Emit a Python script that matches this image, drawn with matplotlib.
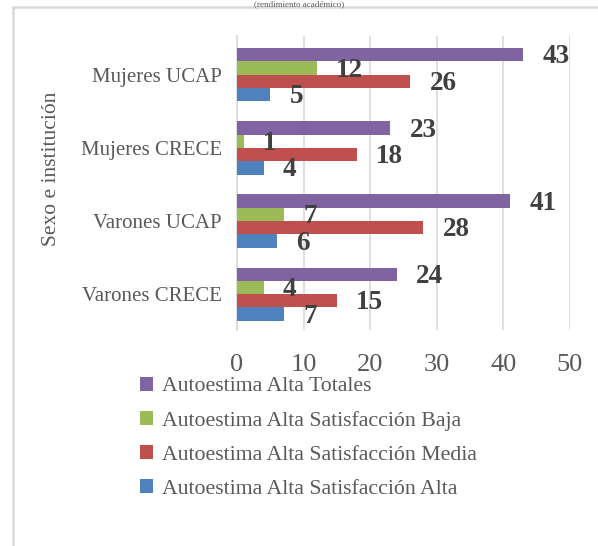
import matplotlib
matplotlib.use("Agg")
import matplotlib.pyplot as plt
import matplotlib.patches as mpatches
import numpy as np

plt.rcParams["font.family"] = ["Liberation Serif", "DejaVu Serif"]

categories = ["Varones CRECE", "Varones UCAP", "Mujeres CRECE", "Mujeres UCAP"]
series_names = [
    "Autoestima Alta Totales",
    "Autoestima Alta Satisfacción Baja",
    "Autoestima Alta Satisfacción Media",
    "Autoestima Alta Satisfacción Alta",
]
totales = [24, 41, 23, 43]
sat_baja = [4, 7, 1, 12]
sat_media = [15, 28, 18, 26]
sat_alta = [7, 6, 4, 5]
colors = ["#8064A2", "#9BBB59", "#C0504D", "#4F81BD"]

fig = plt.figure(figsize=(5.98, 5.46), dpi=100)
ax = fig.add_axes([237 / 598, 1 - 330 / 546, (570 - 237) / 598, (330 - 36) / 546])

y = np.arange(len(categories))
h = 0.182
offsets = [1.5 * h, 0.5 * h, -0.5 * h, -1.5 * h]
data = [totales, sat_baja, sat_media, sat_alta]

for vals, name, col, off in zip(data, series_names, colors, offsets):
    bars = ax.barh(y + off, vals, height=h, color=col, label=name, zorder=3)
    for b, v in zip(bars, vals):
        ax.annotate(str(v), (b.get_width(), b.get_y() + b.get_height() / 2),
                    xytext=(14, -1.5), textcoords="offset points",
                    ha="left", va="center", fontsize=19.5, fontweight="bold",
                    color="#404040", zorder=4)

ax.set_xlim(0, 50)
ax.set_ylim(-0.49, 3.53)
ax.set_xticks([0, 10, 20, 30, 40, 50])
ax.set_yticks(y)
ax.set_yticklabels(categories, fontsize=15)
ax.tick_params(axis="both", length=0, colors="#595959")
ax.tick_params(axis="x", pad=17, labelsize=19)
ax.tick_params(axis="y", pad=11)
ax.grid(axis="x", color="#D9D9D9", linewidth=1.2, zorder=0)
for s in ["top", "right", "bottom"]:
    ax.spines[s].set_visible(False)
ax.spines["left"].set_color("#D9D9D9")
ax.spines["left"].set_linewidth(1.2)
ax.set_ylabel("Sexo e institución", fontsize=15.5, color="#595959")
ax.yaxis.set_label_coords(-0.53, 0.548)

fig.legend(loc="upper left", bbox_to_anchor=(120 / 598, 1 - 357 / 546),
           frameon=False, fontsize=15.7, handlelength=0.62, handleheight=0.62,
           handletextpad=0.4, labelspacing=0.66, labelcolor="#595959")

border = mpatches.Rectangle((13 / 598, -0.1), 1.2, 1 - 7 / 546 + 0.1,
                            transform=fig.transFigure, fill=False,
                            edgecolor="#D9D9D9", linewidth=1.8)
fig.patches.append(border)

fig.text(0.5, 1 - 0.5 / 546, "(rendimiento académico)", ha="center", va="top",
         fontsize=6.5, color="#595959")

fig.savefig("out.png", dpi=100)
